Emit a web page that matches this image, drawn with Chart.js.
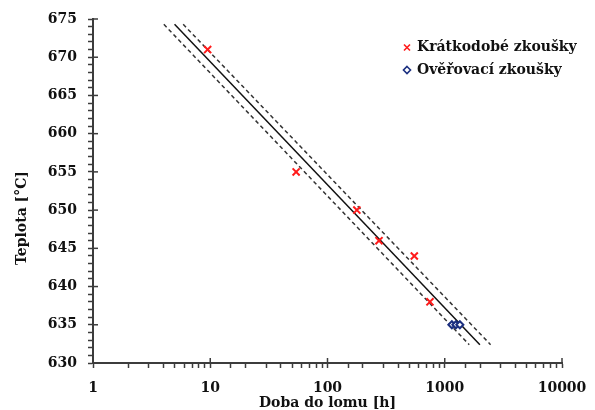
<!DOCTYPE html>
<html>
<head>
<meta charset="utf-8">
<script src="https://cdn.jsdelivr.net/npm/chart.js@4/dist/chart.umd.min.js"></script>
<style>
  html, body { margin: 0; padding: 0; background: #fff; }
  #wrap { width: 595px; height: 410px; }
</style>
</head>
<body>
<div id="wrap"><canvas id="myChart" width="595" height="410"></canvas></div>
<script>
// krátkodobé zkoušky (doba do lomu [h], teplota [°C])
const shortTime = [9.5, 54, 178, 275, 550, 748];
const shortTemp = [671, 655, 650, 646, 644, 638];
// ověřovací zkoušky
const checkTime = [1150, 1245, 1345];
const checkTemp = [635, 635, 635];
// regresní přímka a pásmo
const fitTime = [4.96, 1994];
const upperTime = [5.88, 2459];
const lowerTime = [4.02, 1617];
const lineTemp = [674.3, 632.4];
// osy
const xTicks = [1, 10, 100, 1000, 10000];
const yMin = 630, yMax = 675, yMajorStep = 5;

const FONT = 'DejaVu Serif';
const AXIS = '#3c3c3c';

function pts(xs, ys) { return xs.map((x, i) => ({x: x, y: ys[i]})); }

const axisDecor = {
	id: 'axisDecor',
	afterDraw(chart) {
		const c = chart.ctx, xs = chart.scales.x, ys = chart.scales.y;
		const a = chart.chartArea;
		c.save();
		c.strokeStyle = AXIS;
		c.lineWidth = 1.5;
		// inner half of the major ticks
		xTicks.forEach(v => {
			const px = xs.getPixelForValue(v);
			c.beginPath(); c.moveTo(px, a.bottom); c.lineTo(px, a.bottom - 5); c.stroke();
		});
		for (let v = yMin; v <= yMax; v += yMajorStep) {
			const py = ys.getPixelForValue(v);
			c.beginPath(); c.moveTo(a.left, py); c.lineTo(a.left + 5, py); c.stroke();
		}
		// y axis title
		c.fillStyle = '#111';
		c.font = 'bold 14px "' + FONT + '"';
		c.textAlign = 'center';
		c.textBaseline = 'middle';
		c.translate(22, 218);
		c.rotate(-Math.PI / 2);
		c.fillText('Teplota [°C]', 0, 0);
		c.restore();

		// legend
		c.save();
		const ds = chart.data.datasets;
		const lx = 407, rows = [47.5, 70];
		c.font = 'bold 14px "' + FONT + '"';
		c.textBaseline = 'middle';
		c.fillStyle = '#111';
		c.lineWidth = 1.6;
		// cross
		c.strokeStyle = ds[0].borderColor;
		c.beginPath();
		c.moveTo(lx - 3, rows[0] - 3); c.lineTo(lx + 3, rows[0] + 3);
		c.moveTo(lx + 3, rows[0] - 3); c.lineTo(lx - 3, rows[0] + 3);
		c.stroke();
		c.fillText(ds[0].label, lx + 10, rows[0]);
		// diamond
		c.strokeStyle = ds[1].borderColor;
		c.beginPath();
		c.moveTo(lx, rows[1] - 3.5); c.lineTo(lx + 3.5, rows[1]);
		c.lineTo(lx, rows[1] + 3.5); c.lineTo(lx - 3.5, rows[1]); c.closePath();
		c.stroke();
		c.fillText(ds[1].label, lx + 10, rows[1]);
		c.restore();
	}
};

const ctx = document.getElementById('myChart');
const myChart = new Chart(ctx, {
	type: 'scatter',
	data: {
		datasets: [
			{
				label: 'Krátkodobé zkoušky',
				data: pts(shortTime, shortTemp),
				pointStyle: 'crossRot',
				pointRadius: 5,
				pointBorderWidth: 2,
				borderColor: '#ff1a1a',
				backgroundColor: '#ff1a1a',
				order: 0
			},
			{
				label: 'Ověřovací zkoušky',
				data: pts(checkTime, checkTemp),
				pointStyle: 'rectRot',
				pointRadius: 3.5,
				pointBorderWidth: 2,
				borderColor: '#1b2f80',
				backgroundColor: '#ffffff',
				order: 0
			},
			{
				label: 'fit',
				data: pts(fitTime, lineTemp),
				showLine: true,
				pointRadius: 0,
				borderColor: '#111',
				borderWidth: 1.5,
				order: 1
			},
			{
				label: 'upper',
				data: pts(upperTime, lineTemp),
				showLine: true,
				pointRadius: 0,
				borderColor: '#333',
				borderWidth: 1.5,
				borderDash: [4, 3],
				order: 1
			},
			{
				label: 'lower',
				data: pts(lowerTime, lineTemp),
				showLine: true,
				pointRadius: 0,
				borderColor: '#333',
				borderWidth: 1.5,
				borderDash: [4, 3],
				order: 1
			}
		]
	},
	options: {
		responsive: false,
		animation: false,
		events: [],
		layout: { padding: { top: 19, right: 33, left: 0, bottom: 0 } },
		plugins: {
			legend: { display: false },
			tooltip: { enabled: false }
		},
		scales: {
			x: {
				type: 'logarithmic',
				min: 1,
				max: 10000,
				afterFit: s => { s.height = 47; s.paddingLeft = 0; s.paddingRight = 0; },
				border: { display: true, color: AXIS, width: 2 },
				grid: { drawOnChartArea: false, drawTicks: true, tickLength: 5, color: AXIS, tickWidth: 1.5 },
				ticks: {
					autoSkip: false,
					maxRotation: 0,
					padding: 12,
					color: '#111',
					font: { family: FONT, size: 14, weight: 'bold' },
					callback: v => xTicks.includes(v) ? String(v) : ''
				},
				title: {
					display: true,
					text: 'Doba do lomu [h]',
					color: '#111',
					font: { family: FONT, size: 14, weight: 'bold', lineHeight: 1 },
					padding: { top: 0, bottom: 0 }
				}
			},
			y: {
				min: yMin,
				max: yMax,
				afterFit: s => { s.width = 93; s.paddingTop = 0; s.paddingBottom = 0; },
				border: { display: true, color: AXIS, width: 2 },
				grid: { drawOnChartArea: false, drawTicks: true, tickLength: 5, color: AXIS, tickWidth: 1.5 },
				ticks: {
					stepSize: 1,
					autoSkip: false,
					padding: 11,
					color: '#111',
					font: { family: FONT, size: 14, weight: 'bold' },
					callback: v => (v % yMajorStep === 0) ? String(v) : ''
				}
			}
		}
	},
	plugins: [axisDecor]
});
</script>
</body>
</html>
